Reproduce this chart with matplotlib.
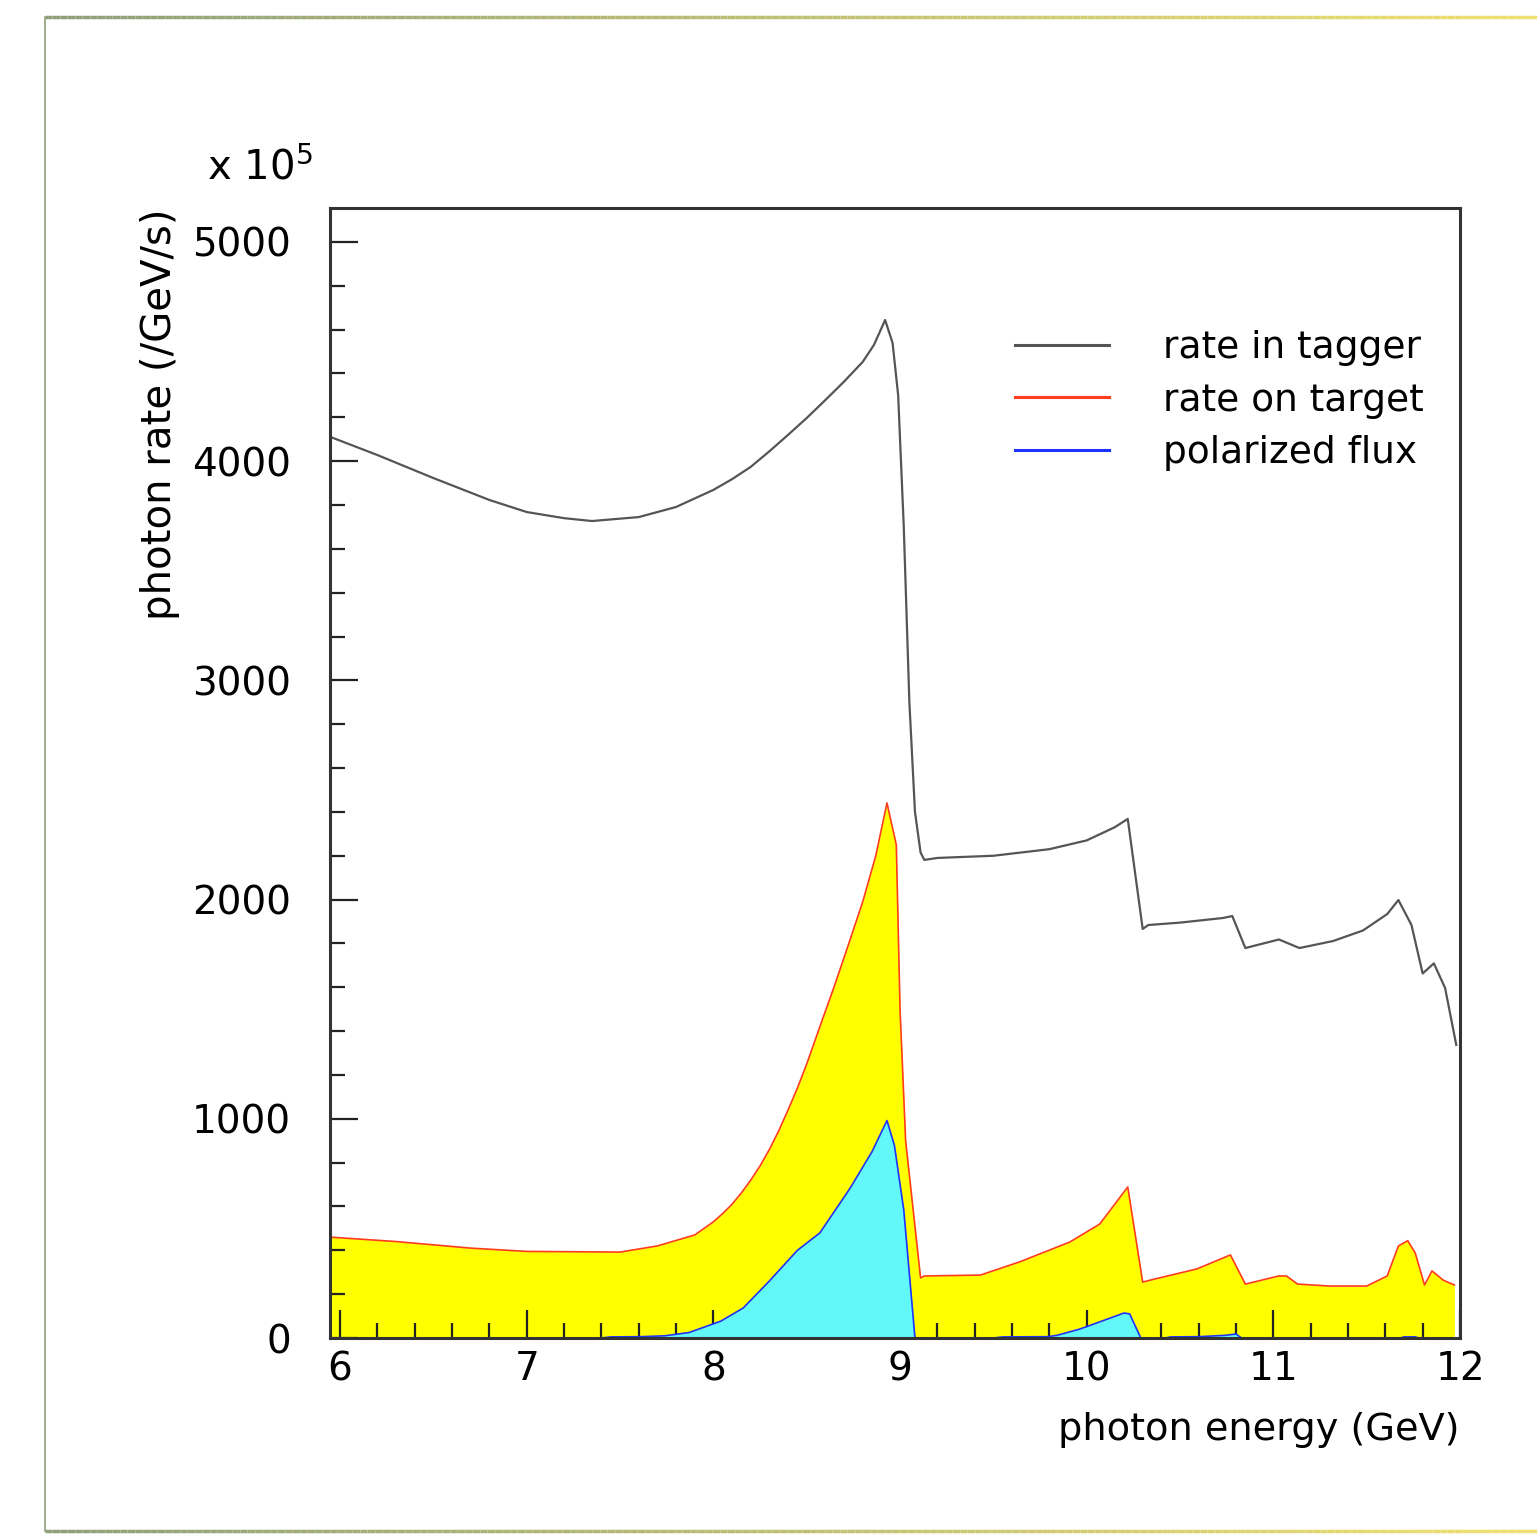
import numpy as np
import matplotlib
matplotlib.use('Agg')
import matplotlib.pyplot as plt
from matplotlib.collections import LineCollection
from matplotlib.colors import LinearSegmentedColormap
from matplotlib.ticker import MultipleLocator

# photon rate in tagger (x 10^5 /GeV/s)
tagger_e = [5.95, 6.2, 6.5, 6.8, 7.0, 7.2, 7.35, 7.6, 7.8, 8.0, 8.1, 8.2, 8.3,
            8.4, 8.5, 8.6, 8.7, 8.8, 8.86, 8.92, 8.96, 8.99, 9.02, 9.05, 9.08,
            9.11, 9.13, 9.2, 9.5, 9.8, 10.0, 10.15, 10.22, 10.30, 10.33, 10.5,
            10.73, 10.78, 10.85, 11.03, 11.14, 11.32, 11.48, 11.61, 11.67, 11.74,
            11.80, 11.86, 11.92, 11.98]
tagger_rate = [4110, 4028, 3923, 3823, 3768, 3740, 3727, 3745, 3791, 3869, 3918,
               3974, 4045, 4120, 4197, 4279, 4363, 4453, 4530, 4644, 4540, 4300,
               3700, 2900, 2400, 2215, 2181, 2190, 2200, 2230, 2270, 2330, 2368,
               1866, 1884, 1895, 1916, 1925, 1779, 1818, 1779, 1811, 1859, 1934,
               1998, 1884, 1663, 1709, 1597, 1337]

# rate on target
target_e = [5.95, 6.3, 6.7, 7.0, 7.5, 7.7, 7.9, 8.0, 8.05, 8.1, 8.15, 8.2, 8.25,
            8.3, 8.35, 8.4, 8.45, 8.5, 8.57, 8.65, 8.73, 8.8, 8.87, 8.93, 8.98,
            9.0, 9.03, 9.11, 9.13, 9.43, 9.64, 9.91, 10.07, 10.22, 10.30, 10.34,
            10.59, 10.77, 10.85, 11.03, 11.07, 11.13, 11.30, 11.50, 11.61, 11.67,
            11.72, 11.76, 11.81, 11.85, 11.91, 11.97]
target_rate = [460, 440, 410, 395, 392, 420, 470, 530, 568, 610, 662, 720, 785,
               860, 945, 1040, 1140, 1250, 1419, 1610, 1811, 1990, 2200, 2441,
               2250, 1500, 900, 274, 283, 287, 347, 438, 520, 689, 255, 264, 315,
               379, 246, 283, 283, 246, 237, 237, 283, 420, 444, 388, 242, 306,
               264, 242]

# polarized flux
pol_e = [7.40, 7.45, 7.61, 7.74, 7.87, 8.04, 8.16, 8.30, 8.45, 8.57, 8.73, 8.85,
         8.93, 8.97, 9.02, 9.08, 9.50, 9.55, 9.79, 9.84, 9.96, 10.01, 10.20,
         10.23, 10.29, 10.42, 10.45, 10.60, 10.74, 10.80, 10.83, 11.68, 11.70,
         11.76, 11.78]
pol_rate = [0, 5, 6, 10, 25, 77, 137, 260, 400, 479, 680, 850, 992, 878, 584, 0,
            0, 5, 6, 12, 40, 55, 114, 110, 0, 0, 5, 6, 12, 18, 0, 0, 5, 5, 0]

labels = ['rate in tagger', 'rate on target', 'polarized flux']

plt.rcParams['font.family'] = ['DejaVu Sans']

fig = plt.figure(figsize=(15.37, 15.37), dpi=100)
ax = fig.add_axes([330/1537, 1 - 1338/1537, 1130/1537, 1130/1537])

ax.fill_between(target_e, target_rate, 0, color='#ffff00', lw=0, zorder=1)
ax.fill_between(pol_e, pol_rate, 0, color='#62f8fa', lw=0, zorder=2)
l1, = ax.plot(tagger_e, tagger_rate, color='#555555', lw=1.6, zorder=3)
l2, = ax.plot(target_e, target_rate, color='#ff3c1e', lw=1.2, zorder=3)
l3, = ax.plot(pol_e, pol_rate, color='#1e32ff', lw=1.2, zorder=3)

ax.set_xlim(5.946, 12.0)
ax.set_ylim(0, 5155)
ax.xaxis.set_major_locator(MultipleLocator(1))
ax.xaxis.set_minor_locator(MultipleLocator(0.2))
ax.yaxis.set_major_locator(MultipleLocator(1000))
ax.yaxis.set_minor_locator(MultipleLocator(200))
ax.tick_params(which='both', direction='in', width=1.6, color='#222222',
               top=False, right=False)
ax.tick_params(which='major', length=20)
ax.tick_params(which='minor', length=11)
ax.tick_params(axis='x', labelsize=28, pad=9)
ax.tick_params(axis='y', labelsize=28, pad=28)
for s in ax.spines.values():
    s.set_linewidth(2.2)
    s.set_color('#333333')
    s.set_zorder(5)

fig.text(160/1537, 1 - 208/1537, 'photon rate (/GeV/s)', rotation=90,
         ha='center', va='top', fontsize=29)
fig.text(1460/1537, 1 - 1430/1537, 'photon energy (GeV)', ha='right',
         va='center', fontsize=27.5)
fig.text(207/1537, 1 - 180/1537, 'x 10$^{5}$', ha='left', va='baseline',
         fontsize=29)

leg = ax.legend([l1, l2, l3], labels, loc='upper left',
                bbox_to_anchor=(0.606, 0.892), frameon=False, fontsize=27,
                handlelength=2.5, handletextpad=1.45, labelspacing=0.44,
                borderpad=0, borderaxespad=0)
for h in leg.legend_handles:
    h.set_linewidth(2.2)

# outer frame with gradient colour
cmap = LinearSegmentedColormap.from_list('frame', ['#8fa07a', '#f0e070'])
t = np.linspace(0, 1, 200)
xs = 45/1537 + t * (1 - 45/1537)
for yy in [1 - 17/1537, 1 - 1531/1537]:
    pts = np.column_stack([xs, np.full_like(xs, yy)]).reshape(-1, 1, 2)
    segs = np.concatenate([pts[:-1], pts[1:]], axis=1)
    lc = LineCollection(segs, colors=cmap(t[:-1]), lw=2.5, transform=fig.transFigure)
    fig.add_artist(lc)
fig.add_artist(plt.Line2D([45/1537, 45/1537], [1 - 17/1537, 1 - 1531/1537],
                          transform=fig.transFigure, color='#8fa07a', lw=1.2))

fig.savefig('out.png', dpi=100)
